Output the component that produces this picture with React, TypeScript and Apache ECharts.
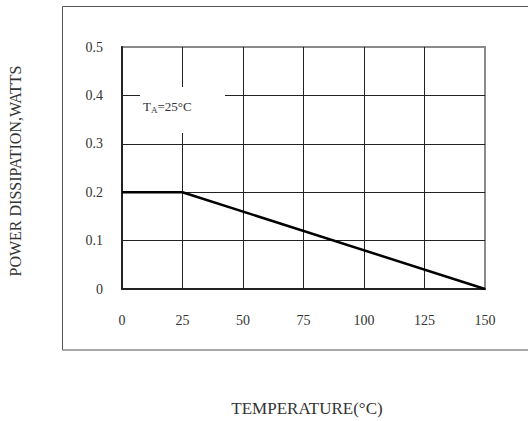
import React, { useEffect, useRef } from "react";
import * as echarts from "echarts";

const temperatures = [0, 25, 150];
const powerWatts = [0.2, 0.2, 0];
const xTicks = [0, 25, 50, 75, 100, 125, 150];
const yTicks = [0, 0.1, 0.2, 0.3, 0.4, 0.5];
const xAxisName = "TEMPERATURE(°C)";
const yAxisName = "POWER DISSIPATION,WATTS";

const FONT = "'Liberation Serif', 'DejaVu Serif', serif";

export default function App() {
  const ref = useRef<HTMLDivElement>(null);
  useEffect(() => {
    document.body.style.margin = "0";
    if (!ref.current) return;
    const chart = echarts.init(ref.current, undefined, { renderer: "svg" });
    const data = temperatures.map((t, i) => [t, powerWatts[i]]);
    chart.setOption({
      animation: false,
      backgroundColor: "#fff",
      grid: {
        left: 122,
        top: 47,
        right: 43,
        bottom: 132,
        show: true,
        borderColor: "#8a8a8a",
        borderWidth: 2,
      },
      xAxis: {
        type: "value",
        min: xTicks[0],
        max: xTicks[xTicks.length - 1],
        interval: 25,
        axisLine: { show: true, onZero: false, lineStyle: { color: "#222", width: 2 } },
        axisTick: { show: false },
        axisLabel: { margin: 24, fontSize: 14, color: "#333", fontFamily: FONT },
        splitLine: { show: true, showMinLine: false, showMaxLine: false, lineStyle: { color: "#222", width: 1 } },
      },
      yAxis: {
        type: "value",
        min: yTicks[0],
        max: yTicks[yTicks.length - 1],
        interval: 0.1,
        axisLine: { show: true, onZero: false, lineStyle: { color: "#222", width: 2 } },
        axisTick: { show: false },
        axisLabel: {
          margin: 19,
          fontSize: 14,
          color: "#333",
          fontFamily: FONT,
          formatter: (v: number) => (v === 0 ? "0" : v.toFixed(1)),
        },
        splitLine: { show: true, showMinLine: false, showMaxLine: false, lineStyle: { color: "#222", width: 1 } },
      },
      graphic: [
        {
          type: "rect",
          z: 100,
          shape: { x: 62.5, y: 6.5, width: 480, height: 343.5 },
          style: { fill: "none", stroke: "#555", lineWidth: 1 },
        },
        {
          type: "rect",
          z: 100,
          shape: { x: 140, y: 87, width: 85, height: 46 },
          style: { fill: "#fff" },
        },
        {
          type: "text",
          z: 101,
          x: 143,
          y: 106,
          style: {
            text: "T{sub|A}=25°C",
            fontSize: 13,
            fontFamily: FONT,
            fill: "#333",
            verticalAlign: "middle",
            rich: {
              sub: { fontSize: 9, fontFamily: FONT, fill: "#333", padding: [7, 0, 0, 0] },
            },
          },
        },
        {
          type: "text",
          z: 101,
          x: 307,
          y: 408,
          style: { text: xAxisName, fontSize: 17, fontFamily: FONT, fill: "#333", align: "center", verticalAlign: "middle" },
        },
        {
          type: "text",
          z: 101,
          x: 15,
          y: 171,
          rotation: Math.PI / 2,
          style: { text: yAxisName, fontSize: 16, fontFamily: FONT, fill: "#333", align: "center", verticalAlign: "middle" },
        },
      ],
      series: [
        {
          type: "line",
          data,
          symbol: "none",
          lineStyle: { color: "#000", width: 2.5 },
          z: 10,
        },
      ],
    });
    return () => chart.dispose();
  }, []);
  return <div ref={ref} style={{ width: 528, height: 421 }} />;
}
